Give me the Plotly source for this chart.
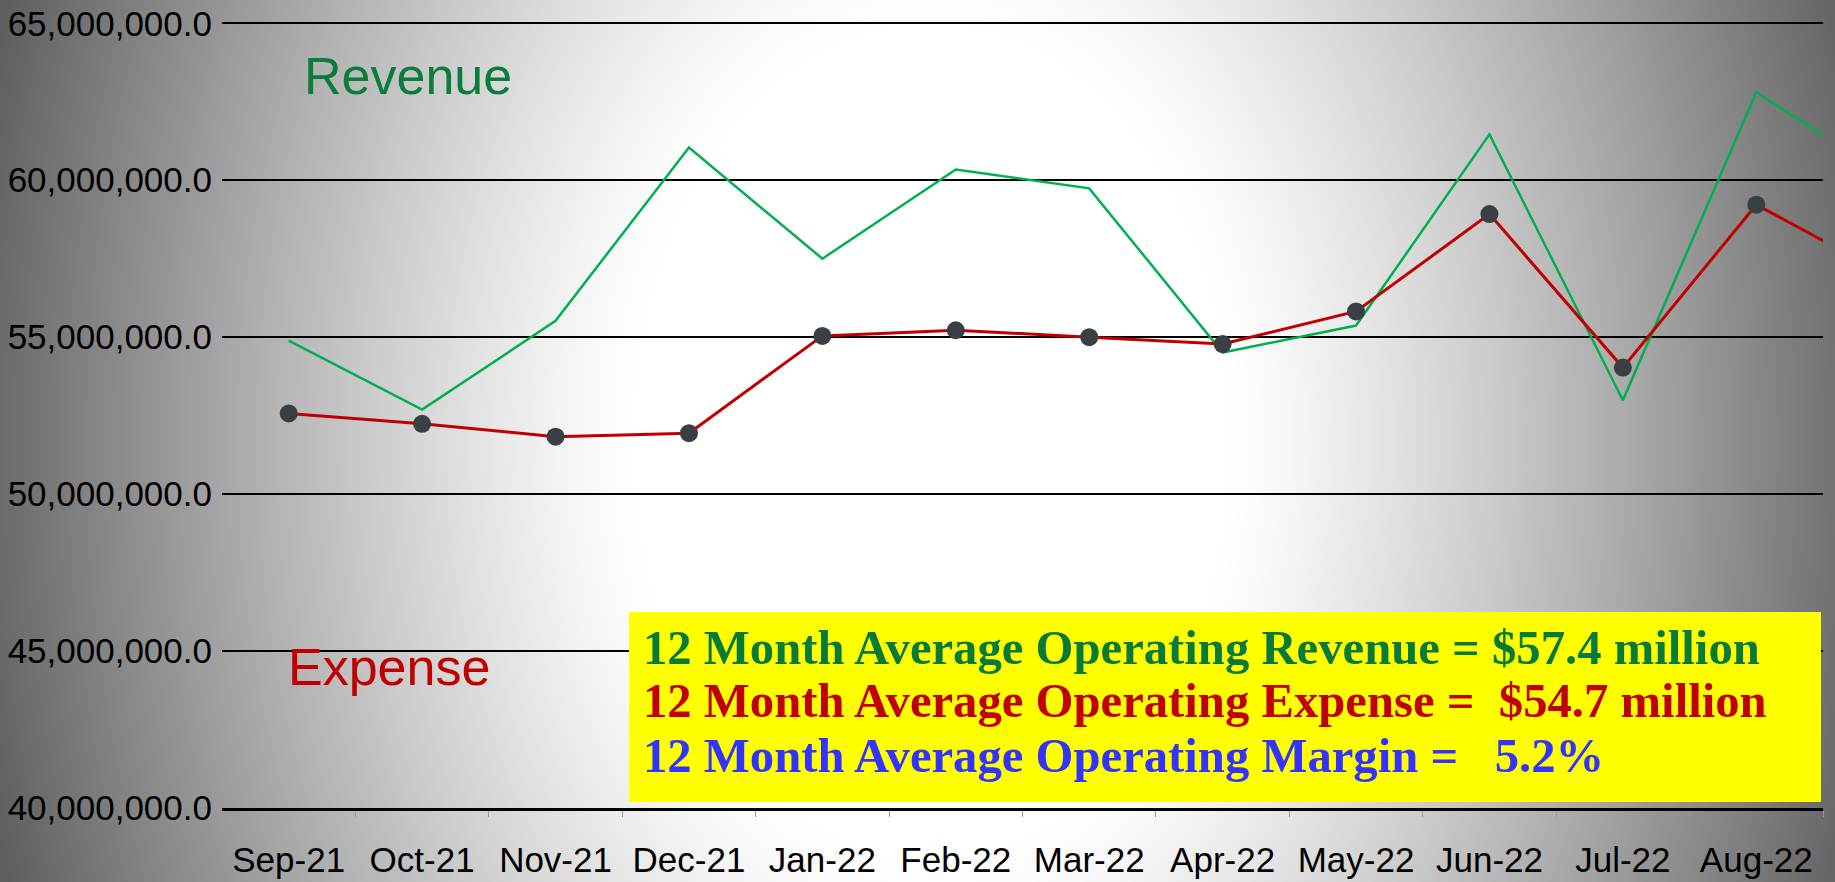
import base64, struct, zlib
import numpy as np
import plotly.graph_objects as go

# ---------------- data ----------------
months = ["Sep-21", "Oct-21", "Nov-21", "Dec-21", "Jan-22", "Feb-22", "Mar-22",
          "Apr-22", "May-22", "Jun-22", "Jul-22", "Aug-22", "Sep-22"]
revenue = [54.89e6, 52.69e6, 55.52e6, 61.04e6, 57.50e6, 60.34e6, 59.74e6,
           54.51e6, 55.37e6, 61.46e6, 52.99e6, 62.80e6, 60.08e6]
expense = [52.57e6, 52.24e6, 51.83e6, 51.94e6, 55.04e6, 55.22e6, 55.00e6,
           54.78e6, 55.82e6, 58.92e6, 54.03e6, 59.22e6, 56.93e6]
summary_lines = [
    "12 Month Average Operating Revenue = $57.4 million",
    "12 Month Average Operating Expense =\u00a0 $54.7 million",
    "12 Month Average Operating Margin =\u00a0\u00a0 5.2%",
]
summary_colors = ["#077a36", "#c00000", "#3333ff"]

# ---------------- figure geometry ----------------
W, H = 1835, 882
ML, MR, MT, MB = 222, 12, 22, 74
PW, PH = W - ML - MR, H - MT - MB


def px_x(x):
    return (x - ML) / PW


def px_y(y):
    return 1 - (y - MT) / PH


# ---------------- radial background image ----------------
def make_bg():
    s = 2
    w, h = W // s, H // s
    yy, xx = np.mgrid[0:h, 0:w].astype(float)
    xx *= s
    yy *= s
    cx, cy = 930.0, 440.0
    d = np.sqrt((xx - cx) ** 2 + ((yy - cy) / 1.4) ** 2)
    t = np.clip((d - 300) / 780, 0, 1)
    v = 255 - 190 * t ** 1.2
    v = np.clip(v, 95, 255).astype(np.uint8)
    raw = b"".join(b"\x00" + v[i].tobytes() for i in range(h))

    def chunk(tag, data):
        c = struct.pack(">I", len(data)) + tag + data
        return c + struct.pack(">I", zlib.crc32(tag + data) & 0xFFFFFFFF)

    png = b"\x89PNG\r\n\x1a\n"
    png += chunk(b"IHDR", struct.pack(">IIBBBBB", w, h, 8, 0, 0, 0, 0))
    png += chunk(b"IDAT", zlib.compress(raw, 9))
    png += chunk(b"IEND", b"")
    return "data:image/png;base64," + base64.b64encode(png).decode()


fig = go.Figure()
fig.add_trace(go.Scatter(x=months, y=revenue, mode="lines",
                         line=dict(color="#00b050", width=2.5),
                         hoverinfo="skip", showlegend=False))
fig.add_trace(go.Scatter(x=months, y=expense, mode="lines+markers",
                         line=dict(color="#c00000", width=3),
                         marker=dict(color="#3a3f44", size=18),
                         hoverinfo="skip", showlegend=False))

fig.add_layout_image(dict(source=make_bg(), xref="paper", yref="paper",
                          x=-ML / PW, y=1 + MT / PH, sizex=W / PW, sizey=H / PH,
                          xanchor="left", yanchor="top", sizing="stretch",
                          layer="below"))

# yellow summary box
fig.add_shape(type="rect", xref="paper", yref="paper",
              x0=px_x(629), x1=px_x(1821), y0=px_y(802), y1=px_y(612),
              fillcolor="#ffff00", line=dict(width=0), layer="above")

for i, (txt, col) in enumerate(zip(summary_lines, summary_colors)):
    fig.add_annotation(x=px_x(641), y=px_y([648, 701, 756][i]), xref="paper", yref="paper",
                       text="<b>" + txt + "</b>", showarrow=False,
                       xanchor="left", yanchor="middle",
                       font=dict(family="Liberation Serif, Times New Roman, serif",
                                 size=48.7, color=col))

fig.add_annotation(x=px_x(408), y=px_y(75.5), xref="paper", yref="paper",
                   text="Revenue", showarrow=False, xanchor="center", yanchor="middle",
                   font=dict(family="Liberation Sans, Arial, sans-serif", size=52,
                             color="#0a7d3c"))
fig.add_annotation(x=px_x(389), y=px_y(667), xref="paper", yref="paper",
                   text="Expense", showarrow=False, xanchor="center", yanchor="middle",
                   font=dict(family="Liberation Sans, Arial, sans-serif", size=52,
                             color="#c00000"))

fig.update_layout(
    width=W, height=H,
    margin=dict(l=ML, r=MR, t=MT, b=MB, autoexpand=False),
    paper_bgcolor="white", plot_bgcolor="rgba(0,0,0,0)",
    font=dict(family="Liberation Sans, Arial, sans-serif", color="black"),
    xaxis=dict(type="category", categoryorder="array", categoryarray=months,
               range=[-0.5, 11.5], tickson="boundaries", ticks="outside",
               ticklen=6, tickcolor="#999999", tickwidth=1,
               showline=True, linecolor="black", linewidth=3,
               showgrid=False, zeroline=False, ticklabelstandoff=19,
               automargin=False,
               tickfont=dict(size=35, color="black")),
    yaxis=dict(range=[40e6, 65.04e6], tickvals=[40e6, 45e6, 50e6, 55e6, 60e6, 65e6],
               tickformat=",.1f", automargin=False,
               showgrid=True, gridcolor="black", gridwidth=2,
               showline=False, zeroline=False, ticks="",
               ticklabelstandoff=9, tickfont=dict(size=35, color="black")),
)

fig.write_html("out.html",
               config={"displayModeBar": False},
               post_script="document.body.style.margin='0';"
                           "document.body.style.overflow='hidden';")
